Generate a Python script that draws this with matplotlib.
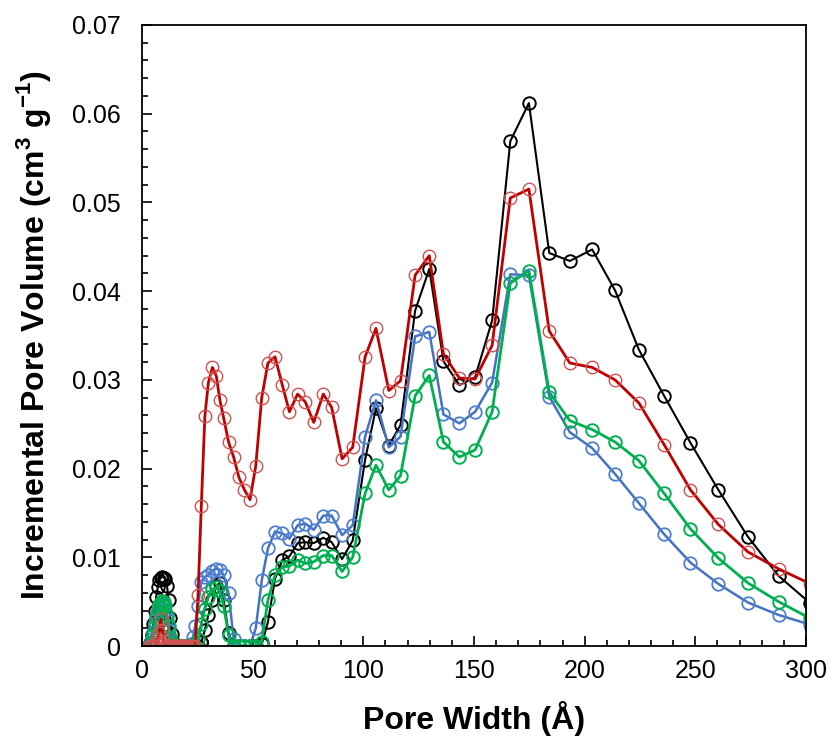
"""Incremental pore volume vs pore width, four samples (open-circle markers)."""
import matplotlib

matplotlib.use("Agg")
import matplotlib.pyplot as plt
from matplotlib.ticker import MultipleLocator, FuncFormatter

plt.rcParams["font.family"] = ["Liberation Sans", "DejaVu Sans"]
plt.rcParams["mathtext.fontset"] = "custom"
plt.rcParams["mathtext.rm"] = "Liberation Sans"
plt.rcParams["mathtext.bf"] = "Liberation Sans:bold"

# pore widths (Å), shared by all samples
pore_width = [
    3.6, 4.3, 5.0, 5.7, 6.4, 7.1, 7.8, 8.5, 9.2, 9.9, 10.6, 11.3, 12.0, 12.8,
    13.6, 14.4, 15.3, 16.2, 17.1, 18.0, 19.0, 20.0, 21.0, 22.0, 23.0, 24.0,
    25.3, 26.8, 28.4, 30.0, 31.8, 33.6, 35.2, 36.9, 39.1, 41.4, 43.8, 46.3,
    48.8, 51.4, 54.1, 56.9, 60.1, 63.4, 66.6, 70.3, 73.8, 77.6, 81.9, 85.7,
    90.4, 95.2, 100.8, 105.7, 111.5, 116.8, 123.4, 129.8, 136.2, 143.4, 150.5,
    158.2, 166.4, 174.8, 184.0, 193.3, 203.4, 213.7, 224.5, 235.9, 247.8,
    260.4, 273.8, 287.6, 302.0,
]

black_vol = [
    0.0003, 0.0012, 0.0025, 0.0040, 0.0055, 0.0066, 0.0074, 0.0077, 0.0078,
    0.0077, 0.0075, 0.0068, 0.0052, 0.0032, 0.0014, 0.0003, 0, 0, 0, 0, 0, 0,
    0, 0, 0, 0, 0, 0.0004, 0.0018, 0.0035, 0.0052, 0.0068, 0.0071, 0.0052,
    0.0015, 0, 0, 0, 0, 0, 0.0002, 0.0027, 0.0076, 0.0097, 0.0101, 0.0116,
    0.0117, 0.0116, 0.0122, 0.0117, 0.0098, 0.0119, 0.0210, 0.0268, 0.0226,
    0.0249, 0.0378, 0.0425, 0.0321, 0.0294, 0.0303, 0.0367, 0.0569, 0.0612,
    0.0443, 0.0434, 0.0447, 0.0401, 0.0334, 0.0282, 0.0229, 0.0176, 0.0123,
    0.0079, 0.0048,
]

blue_vol = [
    0.0002, 0.0008, 0.0016, 0.0026, 0.0035, 0.0042, 0.0046, 0.0048, 0.0048,
    0.0046, 0.0040, 0.0030, 0.0018, 0.0008, 0.0002, 0, 0, 0, 0, 0, 0, 0, 0,
    0.0002, 0.0010, 0.0022, 0.0045, 0.0072, 0.0078, 0.0080, 0.0085, 0.0087,
    0.0086, 0.0080, 0.0060, 0.0008, 0, 0, 0, 0.0020, 0.0074, 0.0110, 0.0129,
    0.0127, 0.0121, 0.0136, 0.0138, 0.0131, 0.0147, 0.0147, 0.0125, 0.0136,
    0.0236, 0.0277, 0.0224, 0.0236, 0.0349, 0.0354, 0.0261, 0.0251, 0.0264,
    0.0297, 0.0419, 0.0418, 0.0281, 0.0241, 0.0223, 0.0194, 0.0161, 0.0126,
    0.0094, 0.0070, 0.0049, 0.0035, 0.0024,
]

green_vol = [
    0, 0.0004, 0.0012, 0.0022, 0.0032, 0.0040, 0.0046, 0.0050, 0.0051,
    0.0050, 0.0045, 0.0035, 0.0022, 0.0010, 0.0003, 0, 0, 0, 0, 0, 0, 0, 0,
    0, 0, 0, 0.0008, 0.0025, 0.0042, 0.0055, 0.0064, 0.0066, 0.0062, 0.0045,
    0.0012, 0, 0, 0, 0, 0, 0.0005, 0.0052, 0.0080, 0.0089, 0.0090, 0.0097,
    0.0093, 0.0095, 0.0102, 0.0102, 0.0084, 0.0100, 0.0172, 0.0204, 0.0176,
    0.0192, 0.0282, 0.0305, 0.0230, 0.0213, 0.0221, 0.0264, 0.0409, 0.0423,
    0.0286, 0.0254, 0.0244, 0.0230, 0.0209, 0.0172, 0.0132, 0.0099, 0.0071,
    0.0050, 0.0031,
]

red_vol = [
    0, 0, 0, 0, 0.0003, 0.0008, 0.0015, 0.0030, 0.0018, 0.0004, 0, 0, 0, 0,
    0, 0, 0, 0, 0, 0, 0, 0, 0, 0, 0, 0, 0.0057, 0.0158, 0.0259, 0.0297,
    0.0314, 0.0304, 0.0277, 0.0257, 0.0230, 0.0213, 0.0190, 0.0176, 0.0165,
    0.0203, 0.0280, 0.0319, 0.0326, 0.0294, 0.0264, 0.0284, 0.0275, 0.0252,
    0.0284, 0.0269, 0.0211, 0.0224, 0.0326, 0.0358, 0.0288, 0.0299, 0.0418,
    0.0440, 0.0329, 0.0302, 0.0301, 0.0339, 0.0505, 0.0515, 0.0355, 0.0319,
    0.0314, 0.0300, 0.0274, 0.0227, 0.0176, 0.0137, 0.0106, 0.0087, 0.0070,
]

# (values, line colour, marker edge colour, line width, marker edge width)
SERIES = [
    (black_vol, "#000000", "#000000", 1.5, 1.4),
    (blue_vol, "#4472C4", "#4F7FD0", 1.8, 1.3),
    (green_vol, "#00B050", "#00B050", 2.0, 1.4),
    (red_vol, "#C00000", "#D45050", 2.0, 1.0),
]


def main() -> None:
    fig = plt.figure(figsize=(8.32, 7.40), dpi=100)
    ax = fig.add_axes([142 / 832, 1 - 646 / 740, 664 / 832, 621 / 740])

    for vals, col, mec, lw, mew in SERIES:
        ax.plot(pore_width, vals, color=col, lw=lw, marker="o", ms=9,
                mfc="none", mec=mec, mew=mew)

    ax.set_xlim(0, 300)
    ax.set_ylim(0, 0.07)
    ax.xaxis.set_major_locator(MultipleLocator(50))
    ax.xaxis.set_minor_locator(MultipleLocator(10))
    ax.yaxis.set_major_locator(MultipleLocator(0.01))
    ax.yaxis.set_minor_locator(MultipleLocator(0.002))
    ax.yaxis.set_major_formatter(FuncFormatter(lambda v, _: "0" if abs(v) < 1e-9 else f"{v:.2f}"))
    ax.xaxis.set_major_formatter(FuncFormatter(lambda v, _: f"{v:.0f}"))

    ax.tick_params(which="both", direction="in", top=False, right=False, width=1.2)
    ax.tick_params(which="major", length=7, labelsize=18)
    ax.tick_params(axis="y", which="major", pad=15)
    ax.tick_params(axis="x", which="major", pad=9)
    ax.tick_params(which="minor", length=4)
    for sp in ax.spines.values():
        sp.set_linewidth(1.3)

    ax.set_xlabel("Pore Width (Å)", fontsize=23, fontweight="bold", labelpad=13)
    ax.set_ylabel(r"Incremental Pore Volume (cm$^{\mathbf{3}}$ g$^{\mathbf{-1}}$)",
                  fontsize=23, fontweight="bold", labelpad=14)

    fig.savefig("out.png", dpi=100)
    plt.close(fig)


if __name__ == "__main__":
    main()
